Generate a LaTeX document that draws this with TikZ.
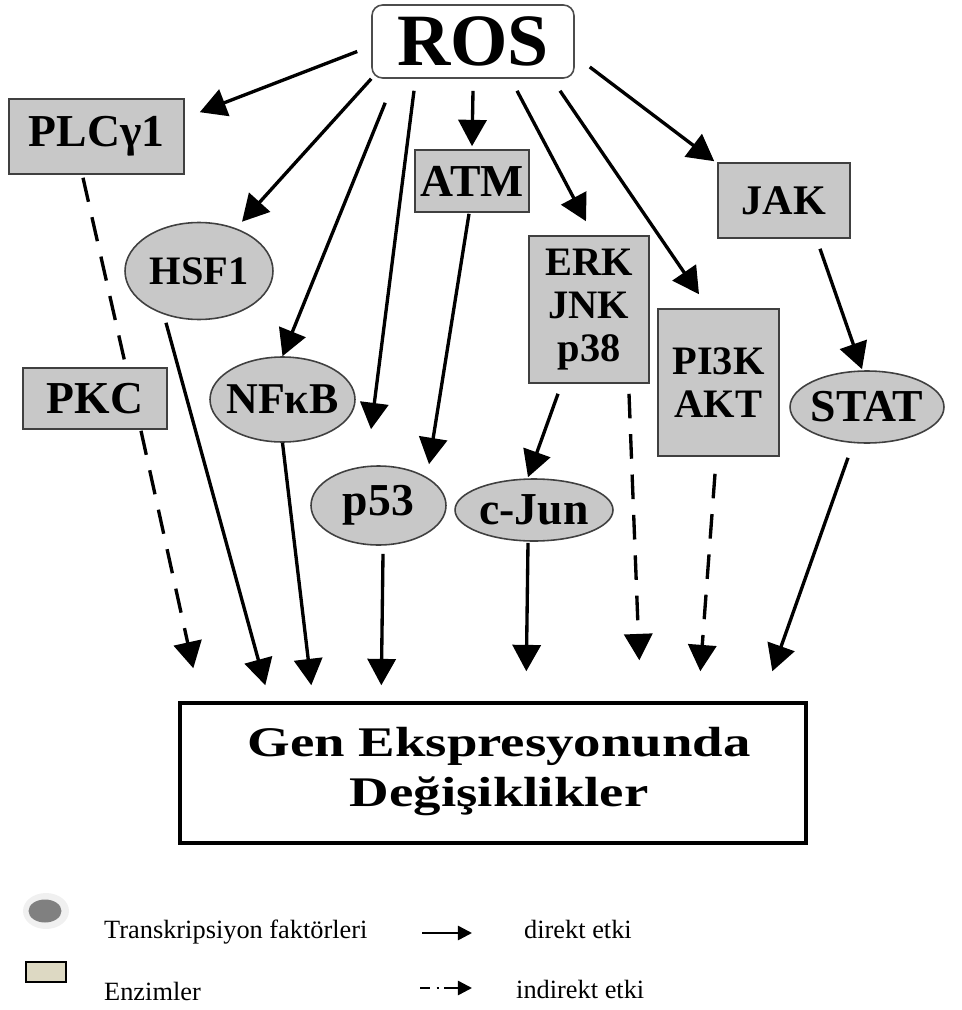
\documentclass[tikz,border=0pt]{standalone}
\usepackage{fontspec}
\setmainfont{Liberation Serif}
\usepackage{graphicx}
\usetikzlibrary{arrows.meta,calc,shapes.geometric}
\definecolor{nodegray}{HTML}{C8C8C8}
\definecolor{enzbeige}{HTML}{DDD9C3}
\newcommand{\fsz}[1]{\fontsize{#1}{#1}\selectfont}

\begin{document}
\begin{tikzpicture}[x=0.02cm,y=-0.02cm,
    enz/.style={draw=black!75,line width=0.9pt,fill=nodegray,inner sep=0pt,font=\bfseries\fsz{#1}},
    tf/.style={ellipse,draw=black!75,line width=0.9pt,fill=nodegray,inner sep=0pt,font=\bfseries\fsz{#1}},
    arr/.style={line width=1.9pt,-{Triangle[length=15pt,width=16pt]}},
    darr/.style={arr,dash pattern=on 14pt off 9pt},
    legtxt/.style={anchor=base west,font=\fsz{15}}]
    \useasboundingbox (0,0) rectangle (962,1010);
    \node[draw=black!70,line width=0.9pt,rounded corners=6pt,fill=white,minimum width=4.04cm,minimum height=1.46cm,inner sep=0pt,font=\bfseries\fsz{42}] (ROS) at (473,41.5) {ROS};
    \node[enz=26,minimum width=3.5cm,minimum height=1.5cm] (PLC) at (96.5,136.5) {PLCγ1};
    \node[enz=26,minimum width=2.28cm,minimum height=1.24cm] (ATM) at (472,181) {ATM};
    \node[enz=24,minimum width=2.64cm,minimum height=1.5cm] (JAK) at (784,200.5) {JAK};
    \node[tf=23,minimum width=2.96cm,minimum height=1.94cm] (HSF1) at (199,271) {\makebox[0pt]{HSF1}};
    \node[enz=23,align=center,minimum width=2.4cm,minimum height=2.94cm] (ERK) at (589,309.5) {ERK\\[1.5pt]JNK\\[1.5pt]p38};
    \node[enz=23,align=center,minimum width=2.42cm,minimum height=2.94cm] (PI3K) at (718.5,382.5) {PI3K\\[1.5pt]AKT};
    \node[enz=26,minimum width=2.88cm,minimum height=1.22cm] (PKC) at (95,398.5) {PKC};
    \node[tf=25,minimum width=2.9cm,minimum height=1.7cm] (NFkB) at (282.5,399.5) {\makebox[0pt]{NFκB}};
    \node[tf=26,minimum width=3.08cm,minimum height=1.44cm] (STAT) at (867,407) {\makebox[0pt]{STAT}};
    \node[tf=26,minimum width=2.7cm,minimum height=1.58cm] (p53) at (378.5,505.5) {\makebox[0pt]{p53}};
    \node[tf=26,minimum width=3.16cm,minimum height=1.24cm] (cJun) at (534,510) {\makebox[0pt]{c-Jun}};
    \node[draw,line width=2pt,minimum width=12.52cm,minimum height=2.8cm,inner sep=0pt] (Gen) at (493,773)
        {\hspace{7pt}\scalebox{1.3}[1]{\bfseries\fsz{24}\begin{tabular}{@{}c@{}}Gen Ekspresyonunda\\[4pt]Değişiklikler\end{tabular}}};
    % ROS
    \draw[arr] ($(ROS.west)+(-14,10)$) -- ($(PLC.north east)+(15,14)$);
    \draw[arr] (ROS.south west) -- ($(HSF1.north)+(43,0)$);
    \draw[arr] ($(ROS.south west)+(14,24)$) -- (NFkB.north);
    \draw[arr] ($(ROS.south)+(-59,12)$) -- ($(p53.north)+(-7.5,-36)$);
    \draw[arr] ($(ROS.south)+(0,12)$) -- ($(ATM.north)+(0,-3)$);
    \draw[arr] ($(ROS.south)+(44,12)$) -- ($(ERK.north)+(-3,-14)$);
    \draw[arr] ($(ROS.south)+(87,12)$) -- ($(PI3K.north)+(-19.5,-14)$);
    \draw[arr] ($(ROS.east)+(15,25.5)$) -- ($(JAK.north west)+(-3,-1)$);
    \draw[line width=1.9pt,dash pattern=on 14pt off 9pt] ($(PLC.south)+(-13.5,3)$) -- ($(PKC.north)+(31,0)$);
    \draw[arr] ($(ATM.south)+(-3,1)$) -- ($(p53.north)+(50.5,-1)$);
    \draw[arr] ($(ERK.south)+(-31,10)$) -- ($(cJun.north)+(-6,-1)$);
    \draw[arr] ($(JAK.south)+(36,10)$) -- ($(STAT.north)+(-5,-1)$);
    % gen ekspresyonu
    \draw[darr] ($(PKC.south)+(46,1)$) -- ($(Gen.north west)+(15,-33)$);
    \draw[arr] ($(HSF1.south)+(-33,2.5)$) -- ($(Gen.north west)+(87,-16)$);
    \draw[arr] (NFkB.south) -- ($(Gen.north west)+(133,-16)$);
    \draw[arr] ($(p53.south)+(4.5,8)$) -- ($(Gen.north west)+(203,-16)$);
    \draw[arr] ($(cJun.south)+(-6,1)$) -- ($(Gen.north west)+(348,-30)$);
    \draw[darr] ($(ERK.south)+(40,10)$) -- ($(Gen.north west)+(461,-41)$);
    \draw[darr] ($(PI3K.south)+(-3.5,17)$) -- ($(Gen.north west)+(522,-30)$);
    \draw[arr] ($(STAT.south)+(-19,14)$) -- ($(Gen.north west)+(594,-30)$);
    % lejant
    \node[ellipse,fill=black!6,minimum width=0.92cm,minimum height=0.72cm,inner sep=0pt] (legHalo) at (46,911) {};
    \node[ellipse,fill=black!50,minimum width=0.66cm,minimum height=0.46cm,inner sep=0pt] (legTF) at (45,911) {};
    \node[draw,line width=1pt,fill=enzbeige,minimum width=0.8cm,minimum height=0.4cm,inner sep=0pt] (legEnz) at (46,972) {};
    \node[legtxt] (legTFtxt) at (98,938) {Transkripsiyon faktörleri};
    \node[legtxt] (legEnztxt) at (98,1000) {Enzimler};
    \coordinate (dirA) at (422,933);
    \coordinate (dirB) at (472,933);
    \draw[line width=1.4pt,-{Triangle[length=8pt,width=8pt]}] (dirA) -- (dirB);
    \node[legtxt] (legDir) at (518,938) {direkt etki};
    \coordinate (indA) at (420,988);
    \coordinate (indB) at (472,988);
    \draw[line width=1.4pt,dash pattern=on 5.5pt off 4pt on 1.2pt off 3pt on 20pt,-{Triangle[length=8pt,width=8pt]}] (indA) -- (indB);
    \node[legtxt] (legInd) at (510,998) {indirekt etki};
\end{tikzpicture}
\end{document}
